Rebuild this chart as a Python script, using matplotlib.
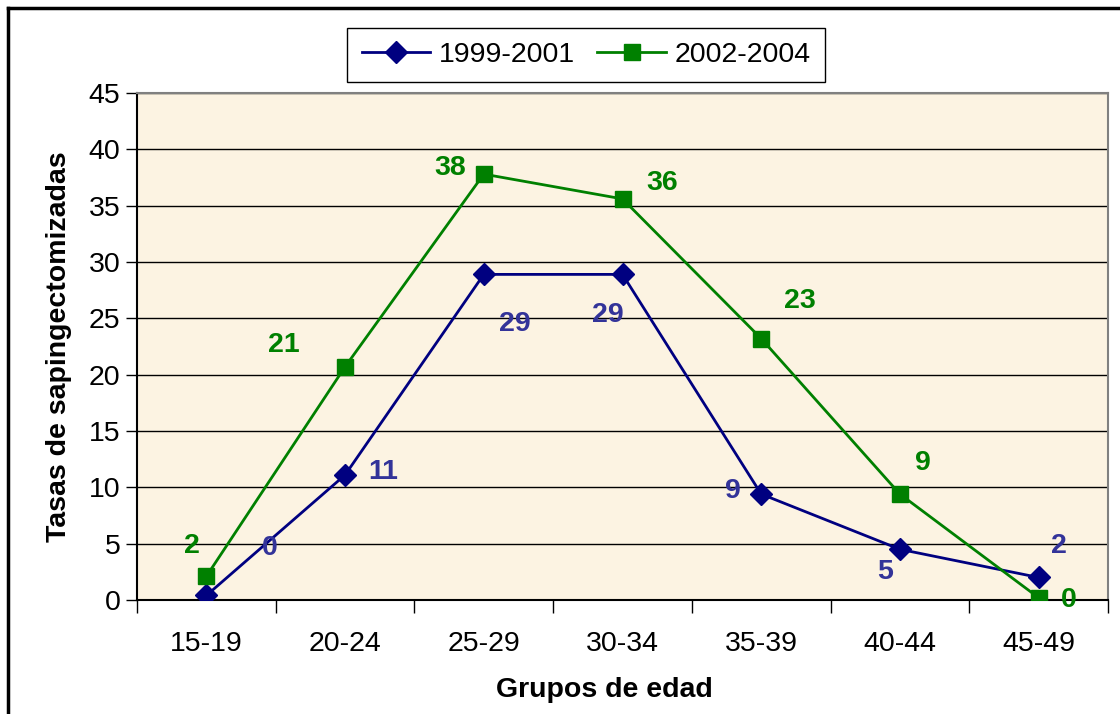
import matplotlib.pyplot as plt
from matplotlib.lines import Line2D

plt.rcParams['font.family'] = ['Liberation Sans', 'DejaVu Sans']

grupos = ['15-19', '20-24', '25-29', '30-34', '35-39', '40-44', '45-49']
tasas_1999_2001 = [0.4, 11.1, 28.9, 28.9, 9.4, 4.5, 2.0]
tasas_2002_2004 = [2.1, 20.7, 37.8, 35.6, 23.2, 9.4, 0.2]

# label offsets in pixels (dx, dy) relative to each point
off_1999 = [(63, 47), (38, 3), (31, -50), (-15, -41), (-28, 3), (-15, -23), (20, 31)]
off_2002 = [(-14, 30), (-61, 22), (-34, 6), (40, 16), (39, 38), (23, 31), (30, -2)]

fs = 20.5
fig = plt.figure(figsize=(11.2, 7.14), dpi=100)
ax = fig.add_axes([137 / 1120, 1 - 600 / 714, 971 / 1120, 507 / 714])
ax.set_facecolor('#FCF3E2')

x = list(range(len(grupos)))
ax.plot(x, tasas_1999_2001, color='#000080', lw=2, marker='D', ms=11,
        label='1999-2001', zorder=4)
ax.plot(x, tasas_2002_2004, color='#008000', lw=2, marker='s', ms=11,
        label='2002-2004', zorder=4)

for xi, v, (dx, dy) in zip(x, tasas_1999_2001, off_1999):
    ax.annotate(f'{int(v + 0.5)}', (xi, v), xytext=(dx, dy), textcoords='offset pixels',
                ha='center', va='center', color='#333399', fontsize=fs,
                fontweight='bold', zorder=5)
for xi, v, (dx, dy) in zip(x, tasas_2002_2004, off_2002):
    ax.annotate(f'{int(v + 0.5)}', (xi, v), xytext=(dx, dy), textcoords='offset pixels',
                ha='center', va='center', color='#008000', fontsize=fs,
                fontweight='bold', zorder=5, annotation_clip=False)

ax.set_xlim(-0.5, len(grupos) - 0.5)
ax.set_ylim(0, 45)
ax.set_yticks(range(0, 46, 5))
ax.set_xticks(x)
ax.set_xticklabels(grupos)
ax.set_xticks([i - 0.5 for i in range(len(grupos) + 1)], minor=True)
ax.tick_params(axis='x', which='major', length=0, pad=22, labelsize=fs)
ax.tick_params(axis='x', which='minor', length=9, width=1, direction='out')
ax.tick_params(axis='y', length=8, width=1, labelsize=fs, pad=4)
ax.yaxis.grid(True, color='black', lw=1)
ax.set_axisbelow(True)

ax.spines['left'].set_color('black')
ax.spines['bottom'].set_color('black')
ax.spines['top'].set_color('#808080')
ax.spines['right'].set_color('#808080')
for s in ax.spines.values():
    s.set_linewidth(1.5)

ax.set_xlabel('Grupos de edad', fontsize=fs, fontweight='bold')
ax.xaxis.set_label_coords(0.481, -0.152)
ax.set_ylabel('Tasas de sapingectomizadas', fontsize=fs, fontweight='bold',
              labelpad=12)

fig.legend(loc='center', bbox_to_anchor=(586 / 1120, 1 - 55 / 714), ncol=2,
           fontsize=fs, frameon=True, fancybox=False, edgecolor='black',
           framealpha=1, handlelength=2.4, columnspacing=0.8, handletextpad=0.3,
           borderpad=0.5, borderaxespad=0)

# outer chart frame (only top and left edges visible)
fig.add_artist(Line2D([8 / 1120, 8 / 1120], [0, 1 - 8 / 714], color='black', lw=2.5,
                      transform=fig.transFigure))
fig.add_artist(Line2D([8 / 1120, 1], [1 - 8 / 714, 1 - 8 / 714], color='black', lw=2.5,
                      transform=fig.transFigure))

fig.savefig('out.png', dpi=100)
